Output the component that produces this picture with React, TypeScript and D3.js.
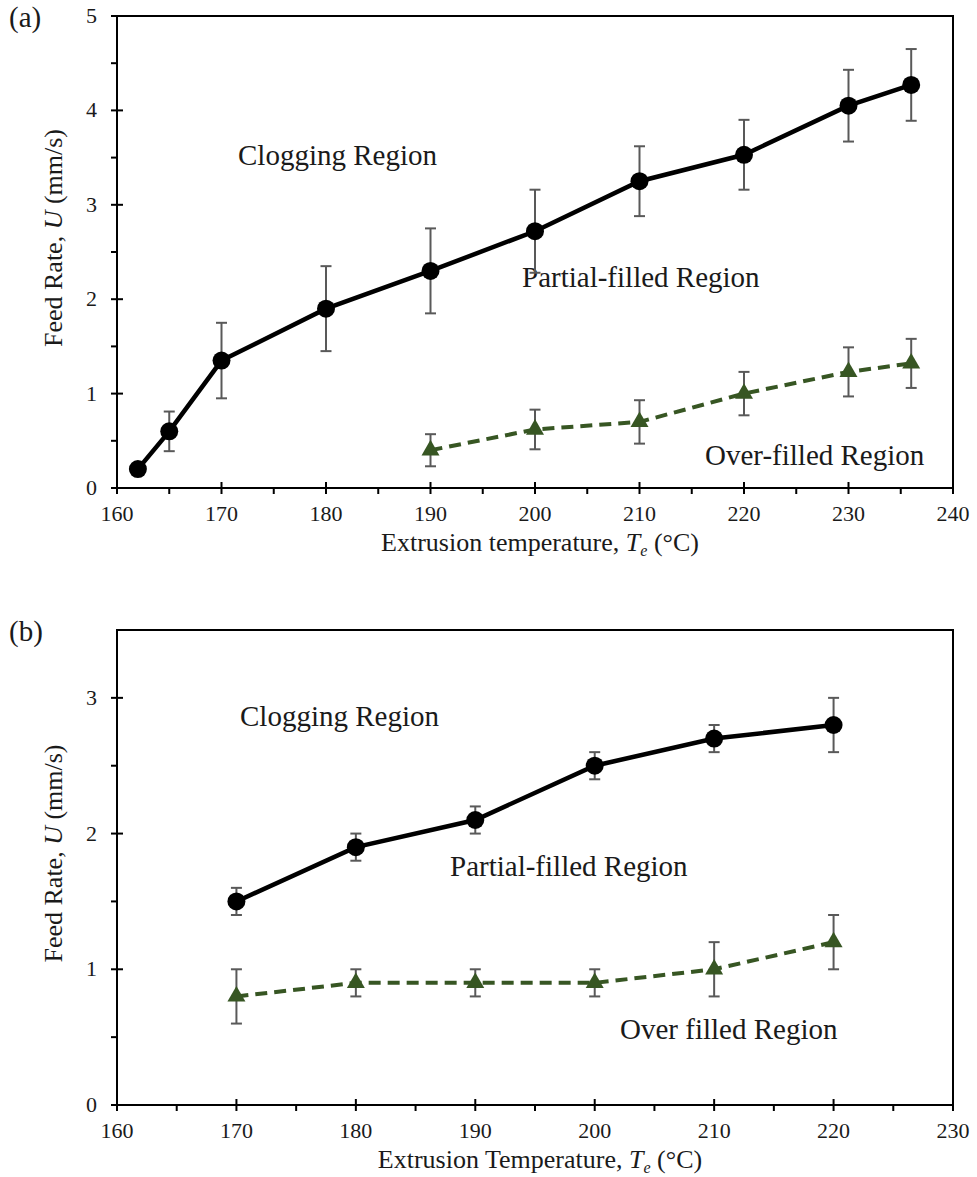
import * as d3 from "d3";

// panel (a)
const tempA = [162, 165, 170, 180, 190, 200, 210, 220, 230, 236];
const clogA = [0.2, 0.6, 1.35, 1.9, 2.3, 2.72, 3.25, 3.53, 4.05, 4.27];
const clogErrA = [0, 0.21, 0.4, 0.45, 0.45, 0.44, 0.37, 0.37, 0.38, 0.38];
const overTempA = [190, 200, 210, 220, 230, 236];
const overA = [0.4, 0.62, 0.7, 1.0, 1.23, 1.32];
const overErrA = [0.17, 0.21, 0.23, 0.23, 0.26, 0.26];

// panel (b)
const tempB = [170, 180, 190, 200, 210, 220];
const clogB = [1.5, 1.9, 2.1, 2.5, 2.7, 2.8];
const clogErrB = [0.1, 0.1, 0.1, 0.1, 0.1, 0.2];
const overB = [0.8, 0.9, 0.9, 0.9, 1.0, 1.2];
const overErrB = [0.2, 0.1, 0.1, 0.1, 0.2, 0.2];

const FONT = "'Liberation Serif', 'Times New Roman', serif";
const GREEN = "#375623";
const ERR = "#595959";
const TXT = "#1a1a1a";

type Pt = { x: number; y: number; e: number };

const zip = (xs: number[], ys: number[], es: number[]): Pt[] =>
  xs.map((x, i) => ({ x, y: ys[i], e: es[i] }));

function Panel(props: {
  top: number;
  bottom: number;
  xDomain: [number, number];
  yMax: number;
  yLabels: number[];
  tag: string;
  tagY: number;
  xTitle: string;
  clog: Pt[];
  over: Pt[];
  notes: { text: string; x: number; y: number }[];
}) {
  const left = 117;
  const right = 953;
  const { top, bottom } = props;
  const x = d3.scaleLinear().domain(props.xDomain).range([left, right]);
  const y = d3.scaleLinear().domain([0, props.yMax]).range([bottom, top]);

  const line = d3
    .line<Pt>()
    .x((d) => x(d.x))
    .y((d) => y(d.y));

  const xMajor = d3.range(props.xDomain[0], props.xDomain[1] + 1, 10);
  const xMinor = d3.range(props.xDomain[0] + 5, props.xDomain[1], 10);
  const yMajor = d3.range(0, props.yMax + 0.01, 1);
  const yMinor = d3.range(0.5, props.yMax, 1);
  const tri = d3.symbol(d3.symbolTriangle, 140)();

  const errBars = (pts: Pt[]) =>
    pts
      .filter((d) => d.e > 0)
      .map((d, i) => (
        <g key={i} stroke={ERR} strokeWidth={2}>
          <line x1={x(d.x)} x2={x(d.x)} y1={y(d.y - d.e)} y2={y(d.y + d.e)} />
          <line x1={x(d.x) - 5.5} x2={x(d.x) + 5.5} y1={y(d.y - d.e)} y2={y(d.y - d.e)} />
          <line x1={x(d.x) - 5.5} x2={x(d.x) + 5.5} y1={y(d.y + d.e)} y2={y(d.y + d.e)} />
        </g>
      ));

  return (
    <g fontFamily={FONT} fill={TXT}>
      <text x={9} y={props.tagY} fontSize={29}>
        {props.tag}
      </text>

      {/* frame */}
      <rect x={left} y={top} width={right - left} height={bottom - top} fill="none" stroke="#000" strokeWidth={2} />

      {/* x ticks */}
      {xMajor.map((t) => (
        <g key={"xm" + t}>
          <line x1={x(t)} x2={x(t)} y1={bottom - 6} y2={bottom + 6} stroke="#000" strokeWidth={2} />
          <text x={x(t)} y={bottom + 33} fontSize={22} textAnchor="middle">
            {t}
          </text>
        </g>
      ))}
      {xMinor.map((t) => (
        <line key={"xn" + t} x1={x(t)} x2={x(t)} y1={bottom} y2={bottom + 6} stroke="#000" strokeWidth={2} />
      ))}

      {/* y ticks */}
      {yMajor.map((t) => (
        <line key={"ym" + t} x1={left - 6} x2={left + 6} y1={y(t)} y2={y(t)} stroke="#000" strokeWidth={2} />
      ))}
      {yMinor.map((t) => (
        <line key={"yn" + t} x1={left - 6} x2={left} y1={y(t)} y2={y(t)} stroke="#000" strokeWidth={2} />
      ))}
      {props.yLabels.map((t) => (
        <text key={"yl" + t} x={97} y={y(t) + 7} fontSize={22} textAnchor="end">
          {t}
        </text>
      ))}

      {/* axis titles */}
      <text x={(left + right) / 2 + 5} y={bottom + 63} fontSize={26} textAnchor="middle">
        {props.xTitle}
        <tspan fontStyle="italic">T</tspan>
        <tspan fontStyle="italic" fontSize={16} dy={5}>e</tspan>
        <tspan dy={-5}>{"  (°C)"}</tspan>
      </text>
      <text
        transform={`translate(62,${(top + bottom) / 2 - 14}) rotate(-90)`}
        fontSize={26}
        textAnchor="middle"
      >
        {"Feed Rate,  "}
        <tspan fontStyle="italic">U</tspan>
        {" (mm/s)"}
      </text>

      {props.notes.map((n) => (
        <text key={n.text} x={n.x} y={n.y} fontSize={29}>
          {n.text}
        </text>
      ))}

      {errBars(props.clog)}
      {errBars(props.over)}

      <path d={line(props.clog) ?? ""} fill="none" stroke="#000" strokeWidth={4.5} />
      <path d={line(props.over) ?? ""} fill="none" stroke={GREEN} strokeWidth={4} strokeDasharray="12 7" />

      {props.clog.map((d, i) => (
        <circle key={"c" + i} cx={x(d.x)} cy={y(d.y)} r={9} fill="#000" />
      ))}
      {props.over.map((d, i) => (
        <path key={"t" + i} d={tri ?? ""} transform={`translate(${x(d.x)},${y(d.y)})`} fill={GREEN} />
      ))}
    </g>
  );
}

export default function App() {
  return (
    <svg
      width={977}
      height={1177}
      style={{ position: "absolute", left: 0, top: 0, background: "#fff" }}
    >
      <Panel
        top={16}
        bottom={488}
        xDomain={[160, 240]}
        yMax={5}
        yLabels={[0, 1, 2, 3, 4, 5]}
        tag="(a)"
        tagY={27}
        xTitle="Extrusion temperature, "
        clog={zip(tempA, clogA, clogErrA)}
        over={zip(overTempA, overA, overErrA)}
        notes={[
          { text: "Clogging Region", x: 238, y: 165 },
          { text: "Partial-filled Region", x: 522, y: 287 },
          { text: "Over-filled Region", x: 705, y: 465 },
        ]}
      />
      <Panel
        top={630}
        bottom={1105}
        xDomain={[160, 230]}
        yMax={3.5}
        yLabels={[0, 1, 2, 3]}
        tag="(b)"
        tagY={641}
        xTitle="Extrusion Temperature, "
        clog={zip(tempB, clogB, clogErrB)}
        over={zip(tempB, overB, overErrB)}
        notes={[
          { text: "Clogging Region", x: 240, y: 726 },
          { text: "Partial-filled Region", x: 450, y: 876 },
          { text: "Over filled Region", x: 620, y: 1039 },
        ]}
      />
    </svg>
  );
}
